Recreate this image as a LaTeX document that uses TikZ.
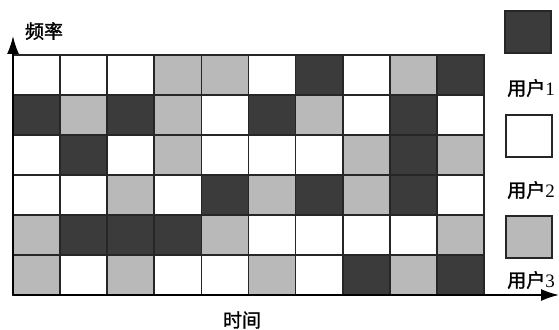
\documentclass[tikz,border=0pt]{standalone}
\usepackage{fontspec}
\setmainfont{Liberation Serif}
\newfontfamily\cjk[FakeBold=1.5]{Noto Sans CJK SC}
\usetikzlibrary{arrows.meta,positioning}
\definecolor{cD}{HTML}{3b3b3b}
\definecolor{cG}{HTML}{b9b9b9}
\definecolor{cW}{HTML}{ffffff}

\begin{document}
\begin{tikzpicture}[
  x=1pt, y=-1pt,
  font=\fontsize{19}{21}\selectfont,
  cell/.style={draw=black!85, line width=1.7pt},
  keybox/.style={rectangle, draw=black!85, line width=1.7pt,
                 minimum width=46pt, minimum height=42pt, inner sep=0pt},
  keylab/.style={inner sep=0pt},
  axis/.style={line width=1.7pt, -{Latex[length=18pt,width=12pt]}},
  >=Latex
]
\useasboundingbox (0,0) rectangle (559,329);

% ---- Time-frequency grid: D = user 1, W = user 2, G = user 3 ----------------
\foreach \cols [count=\row] in {
    {W,W,W,G,G,W,D,W,G,D},
    {D,G,D,G,W,D,G,W,D,W},
    {W,D,W,G,W,W,W,G,D,G},
    {W,W,G,W,D,G,D,G,D,W},
    {G,D,D,D,G,W,W,W,W,G},
    {G,W,G,W,W,G,W,D,G,D}} {
  \foreach \c [count=\col] in \cols {
    \draw[cell, fill=c\c] ({13+47.1*(\col-1)}, {55+40*(\row-1)})
      rectangle ({13+47.1*\col}, {55+40*\row});
  }
}

% ---- Axes ---------------------------------------------------------------------
\coordinate (origin) at (13,295);
\coordinate (ytip) at (13,36);
\coordinate (xtip) at (559,295);
\draw[axis] (origin) -- (ytip);
\draw[axis] (origin) -- (xtip);

\node[keylab] (freq) at (44,31) {\cjk 频率};
\node[keylab] (time) at (242,320) {\cjk 时间};

% ---- Legend -------------------------------------------------------------------
\node[keybox, fill=cD] (key1) at (528,32) {};
\node[keylab] (lab1) at (531,88) {{\cjk 用户}1};
\node[keybox, fill=cW] (key2) at (529,136) {};
\node[keylab] (lab2) at (531,190) {{\cjk 用户}2};
\node[keybox, fill=cG] (key3) at (529,237) {};
\node[keylab] (lab3) at (531,280) {{\cjk 用户}3};

\end{tikzpicture}
\end{document}
